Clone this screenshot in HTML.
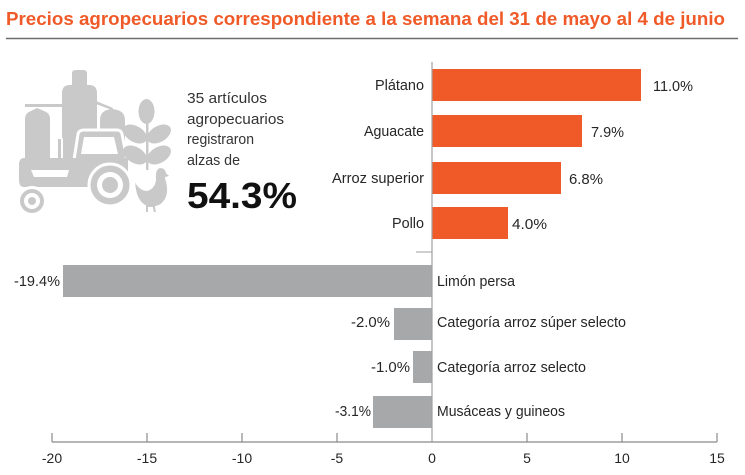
<!DOCTYPE html>
<html>
<head>
<meta charset="utf-8">
<style>
  html,body{margin:0;padding:0;background:#fff;}
  svg{display:block;}
  text{font-family:"Liberation Sans", sans-serif;}
</style>
</head>
<body>
<svg width="745" height="475" viewBox="0 0 745 475" xmlns="http://www.w3.org/2000/svg">
  <rect width="745" height="475" fill="#fff"/>

  <!-- Title -->
  <text x="6" y="25" font-size="18" font-weight="bold" fill="#ef5a28" textLength="719" lengthAdjust="spacingAndGlyphs">Precios agropecuarios correspondiente a la semana del 31 de mayo al 4 de junio</text>
  <line x1="6" y1="38.5" x2="738" y2="38.5" stroke="#6d6d6d" stroke-width="1.5"/>

  <!-- Icon -->
  <g fill="#c9c9c9">
    <!-- horizontal bar -->
    <rect x="25" y="104" width="40" height="3"/>
    <path d="M96,101 L113,108 L112,110 L96,104 Z"/>
    <!-- tall silo -->
    <path d="M62,162 V93 Q62,85 70,85 H72 V73 Q72,70 76,70 H83 Q87,70 87,73 V85 H89 Q97,85 97,93 V162 Z"/>
    <!-- left silo -->
    <path d="M25,162 V119 Q25,113 31,111 L37,108 L44,111 Q50,113 50,119 V162 Z"/>
    <!-- right silo -->
    <path d="M100,152 V120 Q100,110 112,109 Q125,110 125,120 V152 Z"/>
    <!-- exhaust -->
    <rect x="57" y="138" width="5" height="22" rx="1.5" stroke="#fff" stroke-width="2"/>
    <!-- cab -->
    <path d="M74,160 L78,134 Q79,130 84,130 H117 Q121,130 122,134 L127,160 Z" stroke="#fff" stroke-width="3"/>
    <!-- body -->
    <path d="M24,158 H128 V182 H90 V187 H24 Q19,187 19,180 V165 Q19,158 24,158 Z"/>
    <!-- wheat -->
    <rect x="146" y="118" width="2.5" height="52"/>
    <ellipse cx="146.5" cy="111.5" rx="8" ry="12.5"/>
    <ellipse cx="135" cy="134" rx="13" ry="8" transform="rotate(30 135 134)"/>
    <ellipse cx="159" cy="134" rx="13" ry="8" transform="rotate(-30 159 134)"/>
    <ellipse cx="135" cy="155" rx="13" ry="8" transform="rotate(30 135 155)"/>
    <ellipse cx="159" cy="155" rx="13" ry="8" transform="rotate(-30 159 155)"/>
    <!-- big wheel -->
    <circle cx="110" cy="185" r="21" stroke="#fff" stroke-width="3"/>
    <!-- small wheel -->
    <circle cx="32" cy="201" r="13.5" stroke="#fff" stroke-width="3"/>
    <!-- hen -->
    <path d="M160,167 Q166,167 167,173 L171,176 L166,178 Q172,196 161,205 L156,207 L157,213 H153 L152,208 L149,208 L149,213 H145 L145,206 Q134,200 134,178 Q139,190 147,190 Q154,188 155,180 Q154,168 160,167 Z" stroke="#fff" stroke-width="2"/>
  </g>
  <!-- icon white details -->
  <g fill="#fff">
    <path d="M81,154 L84,137 H114 L118,154 Z"/>
    <path d="M31,170 H69 L67,177 H34 Z"/>
    <circle cx="110" cy="185" r="13"/>
    <circle cx="32" cy="201" r="8"/>
  </g>
  <g fill="#c9c9c9">
    <circle cx="110" cy="185" r="8"/>
    <circle cx="32" cy="201" r="4"/>
  </g>

  <!-- Left text -->
  <g font-size="15" fill="#333">
    <text x="187" y="103" textLength="80" lengthAdjust="spacingAndGlyphs">35 artículos</text>
    <text x="187" y="124" textLength="97" lengthAdjust="spacingAndGlyphs">agropecuarios</text>
    <text x="187" y="144" textLength="67" lengthAdjust="spacingAndGlyphs">registraron</text>
    <text x="187" y="165" textLength="53" lengthAdjust="spacingAndGlyphs">alzas de</text>
  </g>
  <text x="187" y="208" font-size="36" font-weight="bold" fill="#111" textLength="110" lengthAdjust="spacingAndGlyphs">54.3%</text>

  <!-- Positive bars -->
  <g fill="#f05a29">
    <rect x="432" y="69" width="209" height="32"/>
    <rect x="432" y="115" width="150" height="32"/>
    <rect x="432" y="162" width="129" height="32"/>
    <rect x="432" y="207" width="76" height="32"/>
  </g>
  <!-- Negative bars -->
  <g fill="#a7a8aa">
    <rect x="63" y="265" width="369" height="32"/>
    <rect x="394" y="308" width="38" height="32"/>
    <rect x="413" y="351" width="19" height="32"/>
    <rect x="373" y="396" width="59" height="32"/>
  </g>

  <!-- zero line + small tick -->
  <line x1="432" y1="62" x2="432" y2="442" stroke="#a0a0a0" stroke-width="1.2"/>
  <line x1="416" y1="252" x2="432" y2="252" stroke="#a0a0a0" stroke-width="1"/>

  <!-- Category labels -->
  <g font-size="14.5" fill="#262626">
    <text x="424" y="90" text-anchor="end" textLength="49" lengthAdjust="spacingAndGlyphs">Plátano</text>
    <text x="424" y="136" text-anchor="end" textLength="60" lengthAdjust="spacingAndGlyphs">Aguacate</text>
    <text x="424" y="183" text-anchor="end" textLength="92" lengthAdjust="spacingAndGlyphs">Arroz superior</text>
    <text x="424" y="228" text-anchor="end" textLength="32" lengthAdjust="spacingAndGlyphs">Pollo</text>

    <text x="437" y="286" textLength="78" lengthAdjust="spacingAndGlyphs">Limón persa</text>
    <text x="437" y="327" textLength="189" lengthAdjust="spacingAndGlyphs">Categoría arroz súper selecto</text>
    <text x="437" y="372" textLength="149" lengthAdjust="spacingAndGlyphs">Categoría arroz selecto</text>
    <text x="437" y="416" textLength="128" lengthAdjust="spacingAndGlyphs">Musáceas y guineos</text>
  </g>

  <!-- Value labels -->
  <g font-size="14.5" fill="#262626">
    <text x="653" y="91" textLength="40" lengthAdjust="spacingAndGlyphs">11.0%</text>
    <text x="591" y="137" textLength="33" lengthAdjust="spacingAndGlyphs">7.9%</text>
    <text x="569" y="184" textLength="34" lengthAdjust="spacingAndGlyphs">6.8%</text>
    <text x="512" y="229" textLength="35" lengthAdjust="spacingAndGlyphs">4.0%</text>

    <text x="60" y="286" text-anchor="end" textLength="46" lengthAdjust="spacingAndGlyphs">-19.4%</text>
    <text x="390" y="327" text-anchor="end" textLength="39" lengthAdjust="spacingAndGlyphs">-2.0%</text>
    <text x="410" y="372" text-anchor="end" textLength="39" lengthAdjust="spacingAndGlyphs">-1.0%</text>
    <text x="371" y="416" text-anchor="end" textLength="36" lengthAdjust="spacingAndGlyphs">-3.1%</text>
  </g>

  <!-- X axis -->
  <g stroke="#8a8a8a" stroke-width="1.2">
    <line x1="52" y1="442" x2="717" y2="442"/>
    <line x1="52" y1="433" x2="52" y2="442"/>
    <line x1="147" y1="433" x2="147" y2="442"/>
    <line x1="242" y1="433" x2="242" y2="442"/>
    <line x1="337" y1="433" x2="337" y2="442"/>
    <line x1="527" y1="433" x2="527" y2="442"/>
    <line x1="622" y1="433" x2="622" y2="442"/>
    <line x1="717" y1="433" x2="717" y2="442"/>
  </g>
  <g font-size="14" fill="#262626" text-anchor="middle">
    <text x="52" y="463">-20</text>
    <text x="147" y="463">-15</text>
    <text x="242" y="463">-10</text>
    <text x="337" y="463">-5</text>
    <text x="432" y="463">0</text>
    <text x="527" y="463">5</text>
    <text x="622" y="463">10</text>
    <text x="717" y="463">15</text>
  </g>
</svg>
</body>
</html>
